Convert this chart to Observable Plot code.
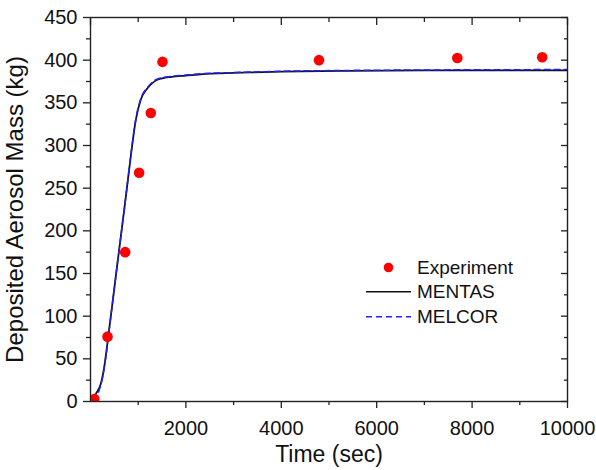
<!DOCTYPE html>
<html><head><meta charset="utf-8">
<script src="https://cdn.jsdelivr.net/npm/d3@7"></script>
<script src="https://cdn.jsdelivr.net/npm/@observablehq/plot@0.6"></script>
<style>
body{margin:0;background:#fff}
#chart{position:relative;width:596px;height:470px}
</style>
</head><body><div id="chart"></div>
<script>
// Experiment points
const expTime = [80, 357, 727, 1020, 1264, 1509, 4790, 7690, 9470];
const expMass = [3, 76, 175, 268, 338, 398, 400, 402.5, 403.5];
// MENTAS curve
const mentasTime = [0, 50, 113, 218, 287, 336, 392, 462, 567, 741, 846, 950, 1055, 1195, 1405, 1700, 2000, 2311, 3000, 3350, 4000, 5440, 7000, 10000];
const mentasMass = [0, 3, 9, 21, 40, 60, 85, 116, 163, 240, 288, 330, 354, 367, 377, 380.5, 382, 383.4, 385, 385.6, 386.5, 387.5, 388, 388];
// MELCOR curve
const melcorTime = [110, 182, 253, 322, 392, 462, 567, 741, 846, 950, 1055, 1195, 1405, 1700, 2000, 2311, 3000, 3350, 4000, 5440, 7000, 10000];
const melcorMass = [0, 13, 28, 52, 84, 116, 163, 240, 289, 331, 355, 368, 378, 381, 382.5, 384, 385.5, 386, 387, 388, 388.5, 389];
// ticks
const xMajor = [2000, 4000, 6000, 8000, 10000];
const xMinor = [1000, 3000, 5000, 7000, 9000];
const xTopMajor = [0, 2000, 4000, 6000, 8000, 10000];
const yMajor = [0, 50, 100, 150, 200, 250, 300, 350, 400, 450];
const yMinor = [25, 75, 125, 175, 225, 275, 325, 375, 425];
const xTitle = "Time (sec)";
const yTitle = "Deposited Aerosol Mass (kg)";
const legendLabels = ["Experiment", "MENTAS", "MELCOR"];

const exp = expTime.map((t, i) => ({t, m: expMass[i]}));
const mentas = mentasTime.map((t, i) => ({t, m: mentasMass[i]}));
const melcor = melcorTime.map((t, i) => ({t, m: melcorMass[i]}));

const W = 596, H = 470, mL = 90, mR = 29, mT = 17, mB = 69;
const ax = "#222";
const font = "'Liberation Sans', Arial, Helvetica, sans-serif";
const blank = () => "";
const plain = d3.format("d");

const plot = Plot.plot({
  width: W, height: H,
  marginLeft: mL, marginRight: mR, marginTop: mT, marginBottom: mB,
  x: {domain: [0, 10000]},
  y: {domain: [0, 450]},
  style: {fontFamily: font, fontSize: "20px", color: "#111", background: "#fff", overflow: "visible"},
  marks: [
    Plot.line(mentas, {x: "t", y: "m", stroke: "#111", strokeWidth: 1.8, curve: "monotone-x", clip: true}),
    Plot.line(melcor, {x: "t", y: "m", stroke: "#1f1fff", strokeWidth: 1.5, strokeDasharray: "6,4", curve: "monotone-x", clip: true}),
    Plot.dot(exp, {x: "t", y: "m", r: 5.3, fill: "#ff0000", stroke: null, clip: true}),
    Plot.frame({stroke: ax, strokeWidth: 1.4}),
    Plot.axisX(xMajor, {anchor: "bottom", tickSize: 7, tickPadding: 12, fontSize: 20, tickFormat: plain, label: null, stroke: ax, strokeWidth: 1.3}),
    Plot.axisX(xMinor, {anchor: "bottom", tickSize: 4, tickFormat: blank, label: null, stroke: ax, strokeWidth: 1.3}),
    Plot.axisX(xTopMajor, {anchor: "top", tickSize: -7, tickFormat: blank, label: null, stroke: ax, strokeWidth: 1.3}),
    Plot.axisX(xMinor, {anchor: "top", tickSize: -4, tickFormat: blank, label: null, stroke: ax, strokeWidth: 1.3}),
    Plot.axisY(yMajor, {anchor: "left", tickSize: 7, tickPadding: 6, fontSize: 20, tickFormat: plain, label: null, stroke: ax, strokeWidth: 1.3}),
    Plot.axisY(yMinor, {anchor: "left", tickSize: 4, tickFormat: blank, label: null, stroke: ax, strokeWidth: 1.3}),
    Plot.axisY(yMajor, {anchor: "right", tickSize: -7, tickFormat: blank, label: null, stroke: ax, strokeWidth: 1.3}),
    Plot.axisY(yMinor, {anchor: "right", tickSize: -4, tickFormat: blank, label: null, stroke: ax, strokeWidth: 1.3}),
    Plot.text([xTitle], {text: d => d, frameAnchor: "bottom", textAnchor: "middle", dy: 60, fontSize: 23, fill: "#111"}),
    Plot.text([yTitle], {text: d => d, frameAnchor: "left", textAnchor: "middle", dx: -75, rotate: -90, fontSize: 24, fill: "#111"})
  ]
});
document.getElementById("chart").appendChild(plot);

// legend
const svg = d3.select(plot);
const lg = svg.append("g").attr("font-family", font).attr("font-size", 19).attr("fill", "#111").attr("text-anchor", "start");
const rows = [274, 298, 323];
lg.append("circle").attr("cx", 388.5).attr("cy", 267.5).attr("r", 4.8).attr("fill", "#ff0000");
lg.append("line").attr("x1", 366).attr("x2", 411).attr("y1", 291.7).attr("y2", 291.7).attr("stroke", "#111").attr("stroke-width", 1.6);
lg.append("line").attr("x1", 366).attr("x2", 411).attr("y1", 316.7).attr("y2", 316.7).attr("stroke", "#1f1fff").attr("stroke-width", 1.4).attr("stroke-dasharray", "6,4");
legendLabels.forEach((s, i) => lg.append("text").attr("x", 417).attr("y", rows[i]).attr("text-anchor", "start").text(s));
</script>
</body></html>
